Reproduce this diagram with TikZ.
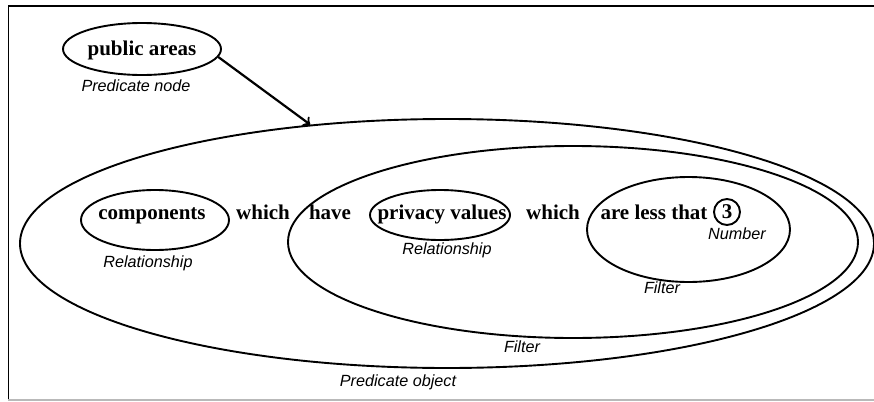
\documentclass[tikz,border=0pt]{standalone}
\usepackage{fontspec}
\setmainfont{Liberation Serif}
\setsansfont{Liberation Sans}
\usetikzlibrary{shapes.geometric}

\begin{document}
\begin{tikzpicture}[x=0.5pt, y=-0.5pt,
                    oval/.style={ellipse, draw, line width=0.95pt, inner sep=0pt},
                    word/.style={anchor=base, font=\fontsize{10.5}{12}\selectfont\bfseries},
                    role/.style={font=\fontsize{8.1}{10}\selectfont\sffamily\itshape}]

    \useasboundingbox (0,0) rectangle (874,402);

    % Frame (open on the right)
    \draw[line width=0.9pt] (874,6) -- (8,6);
    \draw[line width=0.5pt] (8,6) -- (8,400);
    \draw[gray!55, line width=0.6pt] (8,400) -- (874,400);

    % Predicate node
    \node[oval, minimum width=79pt, minimum height=26pt] (pubOval) at (142,49) {};
    \node[word] (pub) at (142,55) {public areas};
    \node[role] (pubRole) at (136,86) {Predicate node};

    % Nested ellipses (predicate object > filter > filter)
    \node[oval, minimum width=427pt, minimum height=124.5pt] (objOval) at (447,243.5) {};
    \node[oval, minimum width=285pt, minimum height=96pt] (midOval) at (573,242) {};
    \node[oval, minimum width=101.5pt, minimum height=52.5pt] (lessOval) at (688.5,229.5) {};

    % Relationship ellipses
    \node[oval, minimum width=74pt, minimum height=30pt] (compOval) at (155,220) {};
    \node[oval, minimum width=70pt, minimum height=25pt] (privOval) at (440,215) {};

    % Words of the sentence
    \node[word] (comp) at (152,219) {components};
    \node[word] (which1) at (263,219) {which};
    \node[word] (have) at (330,219) {have};
    \node[word] (priv) at (442,219) {privacy values};
    \node[word] (which2) at (553,219) {which};
    \node[word] (less) at (654,219) {are less that};
    \node[circle, draw, line width=0.95pt, minimum size=13pt, inner sep=0pt,
          font=\fontsize{10.5}{12}\selectfont\bfseries] (three) at (727,212) {3};

    % Role labels
    \node[role] (compRole) at (148,263) {Relationship};
    \node[role] (privRole) at (447,250) {Relationship};
    \node[role] (numRole) at (737,234) {Number};
    \node[role] (lessRole) at (662,288) {Filter};
    \node[role] (midRole) at (522,347) {Filter};
    \node[role] (objRole) at (398,382) {Predicate object};

    % Link from predicate node to predicate object
    \draw[->, line width=1.1pt] (pubOval.-6) -- (objOval.139);
\end{tikzpicture}
\end{document}
